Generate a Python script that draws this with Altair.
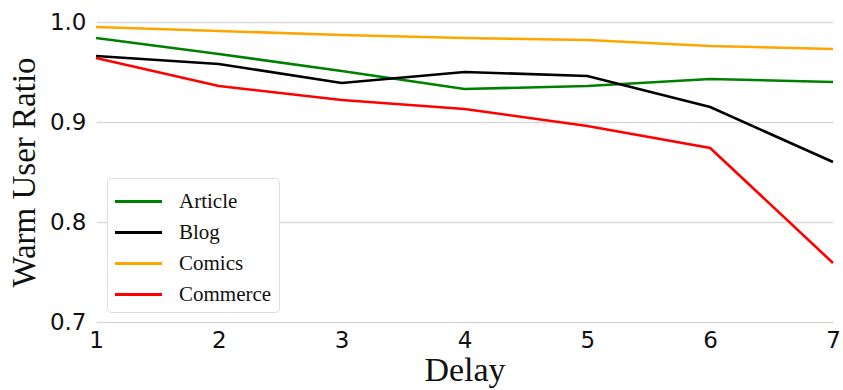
import altair as alt
import pandas as pd

delays = [1, 2, 3, 4, 5, 6, 7]
article = [0.984, 0.968, 0.951, 0.933, 0.936, 0.943, 0.940]
blog = [0.966, 0.958, 0.939, 0.950, 0.946, 0.915, 0.860]
comics = [0.995, 0.991, 0.987, 0.984, 0.982, 0.976, 0.973]
commerce = [0.964, 0.936, 0.922, 0.913, 0.896, 0.874, 0.759]

series_names = ["Article", "Blog", "Comics", "Commerce"]
series_colors = ["#008000", "#000000", "#FFA500", "#FF0000"]

rows = []
for name, vals in zip(series_names, [article, blog, comics, commerce]):
    for d, v in zip(delays, vals):
        rows.append({"Delay": d, "Ratio": v, "Series": name})
df = pd.DataFrame(rows)

chart = alt.Chart(df).mark_line(strokeWidth=2.6).encode(
    x=alt.X("Delay:Q",
            scale=alt.Scale(domain=[1, 7], nice=False, zero=False),
            axis=alt.Axis(values=delays, format="d", grid=False, domain=False, ticks=False,
                          labelFont="DejaVu Sans", labelFontSize=23, labelColor="#111",
                          labelPadding=7, title="Delay", titleFont="Liberation Serif",
                          titleFontSize=34, titleFontWeight="normal", titleColor="#111",
                          titlePadding=1, labelFlush=False)),
    y=alt.Y("Ratio:Q",
            scale=alt.Scale(domain=[0.7, 1.0], nice=False, zero=False),
            axis=alt.Axis(values=[0.7, 0.8, 0.9, 1.0], format=".1f", grid=True,
                          gridColor="#d9d9d9", gridWidth=1.5, domain=False, ticks=False,
                          labelFont="DejaVu Sans", labelFontSize=23, labelColor="#111",
                          labelPadding=10, title="Warm User Ratio",
                          titleFont="Liberation Serif", titleFontSize=33,
                          titleFontWeight="normal", titleColor="#111", titlePadding=8)),
    color=alt.Color("Series:N",
                    scale=alt.Scale(domain=series_names, range=series_colors),
                    legend=alt.Legend(orient="none", legendX=11, legendY=156, title=None,
                                      symbolType="M-1.57,0H1.57", symbolSize=900,
                                      symbolStrokeWidth=3, symbolOffset=8,
                                      labelFont="Liberation Serif", labelFontSize=21,
                                      labelColor="#111", rowPadding=4, labelOffset=24,
                                      padding=7, fillColor="white", strokeColor="#dddddd",
                                      cornerRadius=4)),
).properties(
    width=737, height=300,
    padding={"left": 96, "top": 22, "right": 10, "bottom": 68},
    autosize=alt.AutoSizeParams(type="none"),
).configure_view(stroke=None)

chart.save("out.html", embed_options={"renderer": "svg", "actions": False})
